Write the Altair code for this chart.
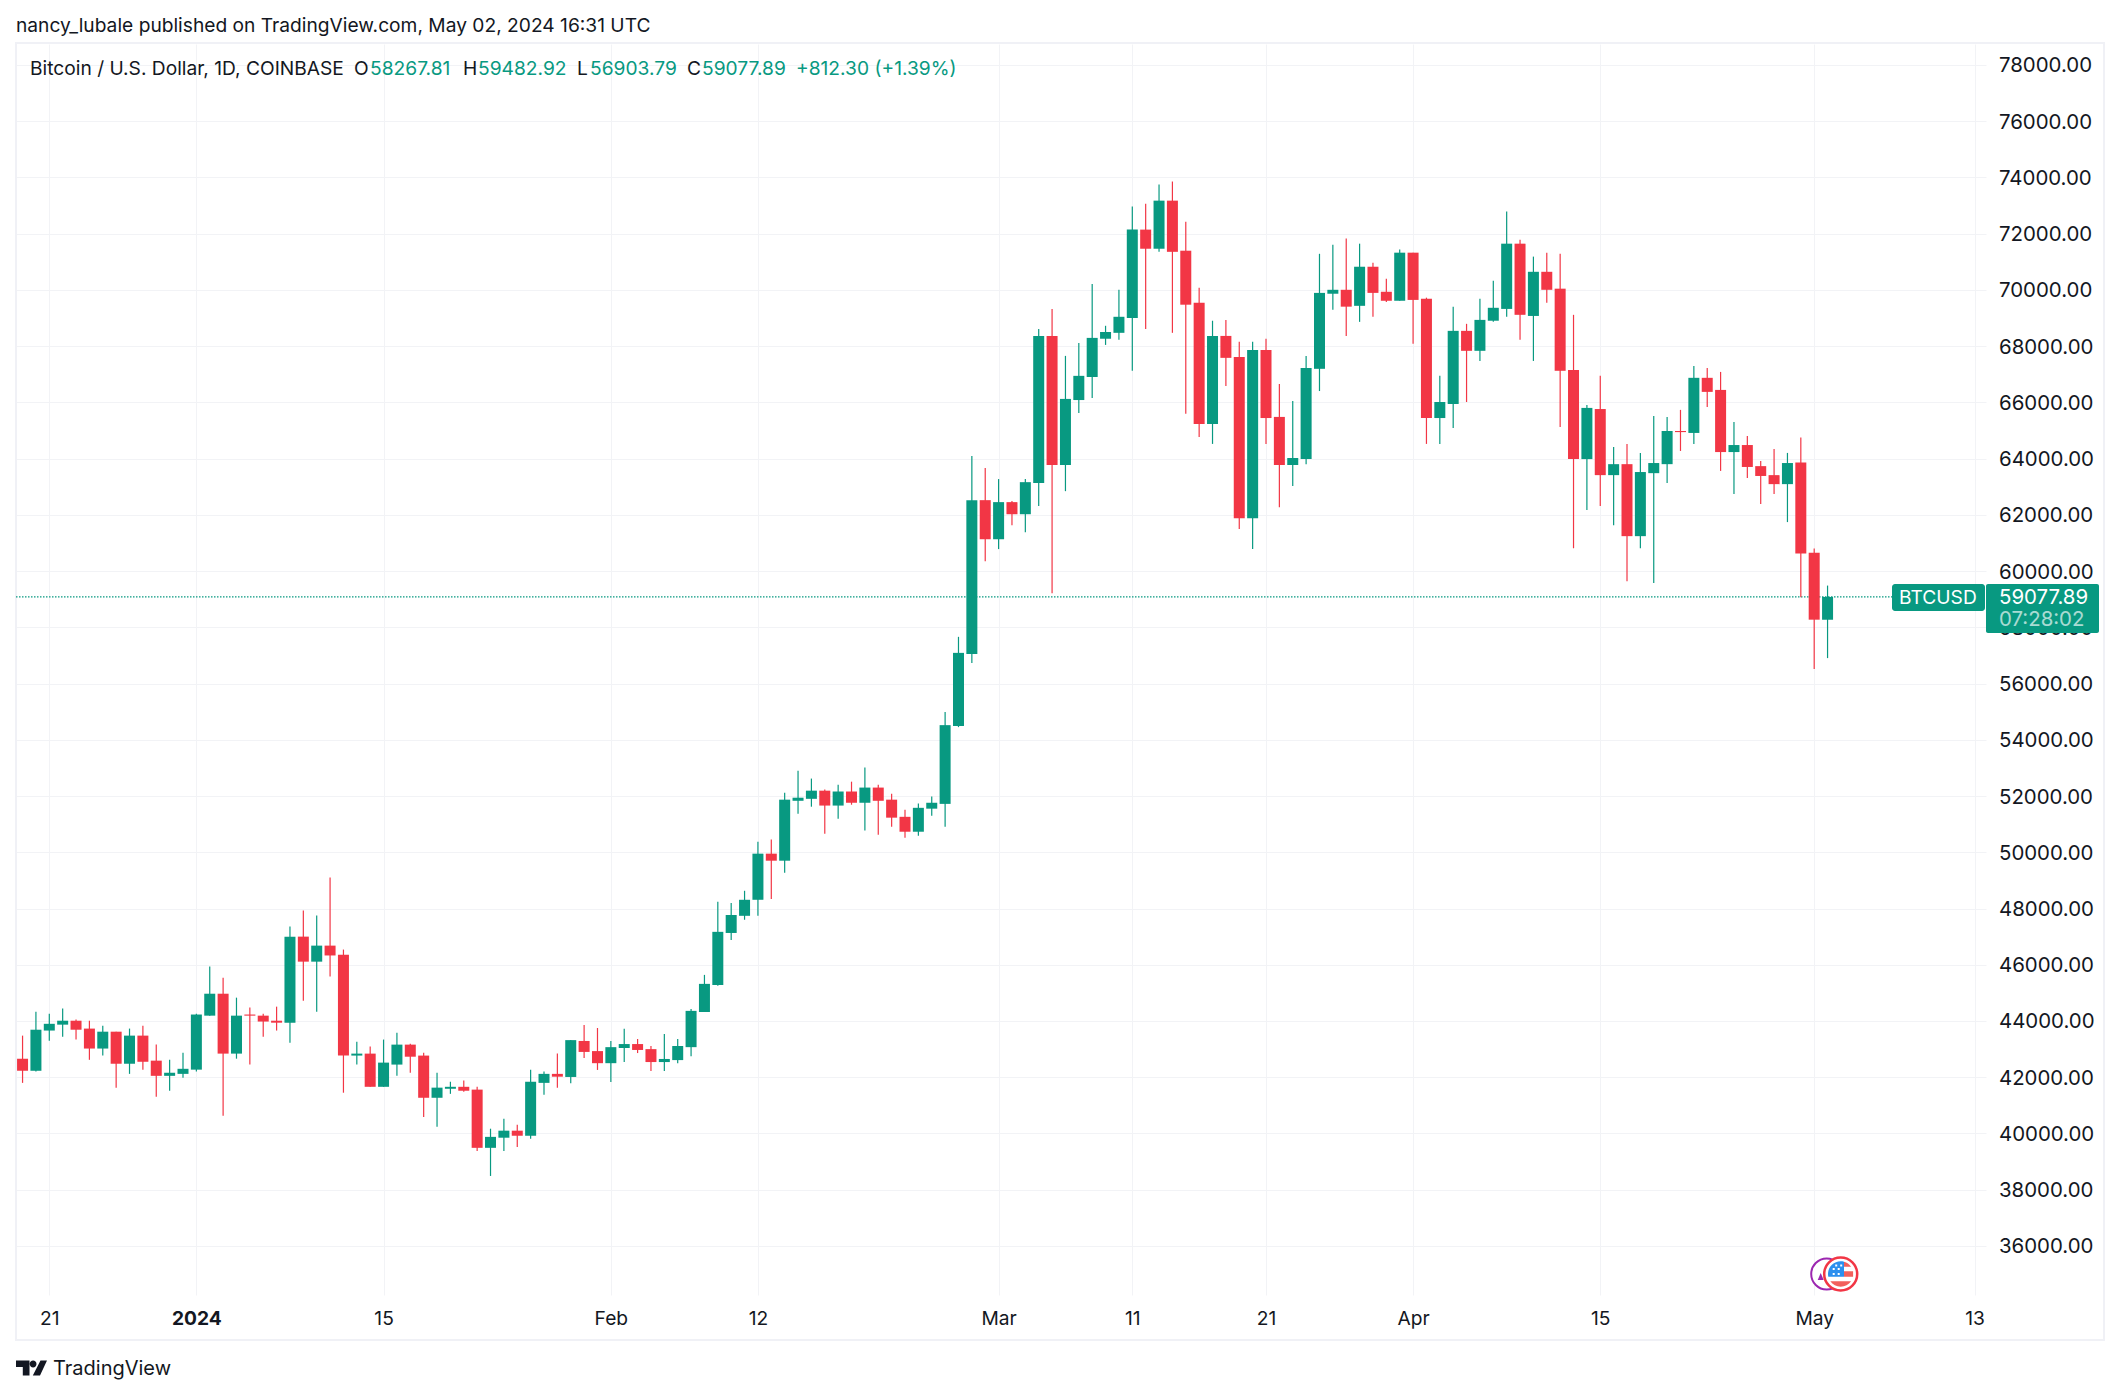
import altair as alt
import pandas as pd

opens = [42660, 42230, 43660, 43870, 44010, 43730, 43020, 43620, 42480, 43480, 42590, 42050, 42120,
         42270, 44190, 44970, 42840, 44230, 44190, 44010, 43940, 47000, 46110, 46680, 46360, 42770, 42840, 41660, 42450, 43160, 42770, 41270, 41590, 41660, 41560, 39490, 39850, 40100, 39920, 41800, 42120, 42010, 43290, 42930,
         42500, 43040, 43180, 43000, 42540, 42610, 43070, 44320, 45280, 47130, 47740, 48310, 49950, 49700, 51830, 51900, 52190, 51660, 52160, 51760, 52300, 51870, 51260, 50730, 51550, 51720, 54490, 57050, 62520,
         61130, 62450, 62020, 63130, 68360, 63770, 66080, 66900, 68260, 68470, 69000, 72140, 71460, 73170, 71390, 69540, 65230, 68360, 67610, 61880, 67860, 65480, 63770, 63980, 67190, 69860, 70000, 69430, 70820, 69930, 69610,
         71320, 69680, 65440, 65940, 68540, 67830, 68900, 69320, 71640, 69070, 70640, 70040, 67150, 63980, 65760, 63410, 63800, 61240, 63480, 63800, 64980, 64910, 66870, 66440, 64230, 64480, 63730, 63410, 63090, 63860,
         60650, 58267.81]
highs = [43480, 44330, 44260, 44440, 44050, 44010, 43830, 43620, 43730, 43830, 43160, 42620, 42870,
         44260, 45940, 45540, 44830, 44480, 44260, 44510, 47360, 47930, 47750, 49100, 46540, 43260, 43090, 43340, 43580, 43190, 42870, 42160, 41840, 41880, 41660, 40170, 40520, 40310, 42270, 42200, 42840, 43320, 43860, 43750,
         43290, 43720, 43360, 43110, 43540, 43360, 44430, 45640, 48240, 48200, 48630, 50370, 50450, 52120, 52900, 52620, 52230, 52400, 52510, 53010, 52400, 52080, 51510, 51730, 51980, 54990, 57660, 64090, 63660,
         63270, 62490, 63270, 68610, 69320, 67650, 68110, 70210, 68720, 70000, 72960, 73060, 73740, 73850, 72420, 70070, 68900, 68930, 68150, 68150, 68260, 66650, 66050, 67650, 71280, 71600, 71820, 71640, 70960, 70390, 71430,
         71320, 69720, 66940, 69400, 68790, 69680, 70320, 72780, 71780, 71180, 71320, 71280, 69110, 65900, 66940, 64410, 64520, 64200, 65510, 65480, 65730, 67290, 67220, 67080, 65300, 64800, 63910, 64340, 64200, 64750,
         60800, 59482.92]
lows = [41800, 42200, 43300, 43440, 43340, 42620, 42770, 41630, 42120, 42270, 41310, 41520, 41980,
        42200, 44190, 40630, 42660, 42450, 43440, 43660, 43230, 44720, 44330, 45580, 41450, 42450, 41660, 41660, 42050, 42160, 40590, 40240, 41410, 41480, 39380, 38490, 39380, 39520, 39810, 41380, 41630, 41790, 42680, 42260,
        41830, 42540, 42860, 42220, 42220, 42500, 42750, 44320, 45250, 46880, 47600, 47740, 48340, 49270, 51370, 51620, 50660, 51190, 51690, 50770, 50620, 50910, 50520, 50590, 51300, 50910, 54450, 56730, 60350,
        60780, 61630, 61380, 62310, 59210, 62840, 65620, 66150, 68040, 68220, 67120, 68610, 71350, 68470, 65590, 64770, 64520, 66580, 61490, 60780, 64520, 62270, 63020, 63800, 66400, 69290, 68360, 68860, 69040, 69570, 69610,
        68080, 64520, 64520, 65090, 66010, 67470, 68860, 69040, 68220, 67470, 69540, 65120, 60810, 62170, 62310, 61630, 59640, 60810, 59570, 63130, 64270, 64520, 65830, 63560, 62740, 63310, 62380, 62740, 61740, 59070,
        56520, 56903.79]
closes = [42230, 43690, 43900, 44010, 43690, 43020, 43620, 42480, 43480, 42550, 42050, 42160, 42300,
          44230, 44970, 42840, 44190, 44190, 43980, 43940, 47000, 46110, 46680, 46330, 42770, 42840, 41660, 42520, 43160, 42730, 41270, 41630, 41660, 41520, 39490, 39880, 40100, 39920, 41840, 42120, 42020, 43320, 42900, 42500,
          43070, 43180, 42970, 42540, 42650, 43110, 44360, 45320, 47170, 47770, 48310, 49950, 49700, 51870, 51940, 52190, 51660, 52160, 51760, 52300, 51830, 51230, 50730, 51580, 51760, 54520, 57090, 62520, 61130,
          62450, 62020, 63160, 68360, 63770, 66120, 66940, 68290, 68500, 69040, 72140, 71460, 73170, 71350, 69470, 65230, 68360, 67580, 61880, 67860, 65440, 63770, 64020, 67220, 69890, 70000, 69400, 70820, 69890, 69610, 71320,
          69640, 65440, 66010, 68540, 67830, 68930, 69360, 71640, 69110, 70640, 70000, 67120, 63980, 65800, 63410, 63800, 61240, 63520, 63840, 64980, 64940, 66870, 66370, 64230, 64480, 63700, 63380, 63090, 63840, 60620,
          58270, 59077.89]

price_ticks = list(range(36000, 80000, 2000))
last_price = [59077.89]
header_text = "nancy_lubale published on TradingView.com, May 02, 2024 16:31 UTC"
symbol_text = "Bitcoin / U.S. Dollar, 1D, COINBASE"
ohlc_labels = [("O", "58267.81"), ("H", "59482.92"), ("L", "56903.79"), ("C", "59077.89")]
change_text = "+812.30 (+1.39%)"
GREEN = "#089981"
RED = "#F23645"
GRID = "#F2F3F6"
FRAME = "#F0F1F6"
INK = "#131722"
FONT = "Inter"
FS = 19.2
PS = 20.4

dates = pd.date_range("2023-12-19", periods=len(opens)).strftime("%Y-%m-%d").tolist()
df = pd.DataFrame({"date": dates, "open": opens, "high": highs, "low": lows, "close": closes})
df["dir"] = ["up" if c >= o else "down" for o, c in zip(opens, closes)]

# plot area spans page x 16..1986, y 44..1295; padding places it there
W, H = 1970, 1251
PX = lambda x: x - 16
PY = lambda y: y - 44

xscale = alt.Scale(type="utc", padding=0,
                   domain=[alt.DateTime(year=2023, month=12, date=18, hours=12, minutes=14, utc=True),
                           alt.DateTime(year=2024, month=5, date=13, hours=20, minutes=24, utc=True)])
yscale = alt.Scale(domain=[34257, 78740], zero=False, nice=False)
cscale = alt.Scale(domain=["up", "down"], range=[GREEN, RED])

x_ticks = [alt.DateTime(year=y, month=m, date=d, utc=True) for y, m, d in
           [(2023, 12, 21), (2024, 1, 1), (2024, 1, 15), (2024, 2, 1), (2024, 2, 12), (2024, 3, 1),
            (2024, 3, 11), (2024, 3, 21), (2024, 4, 1), (2024, 4, 15), (2024, 5, 1), (2024, 5, 13)]]

x_axis = alt.Axis(values=x_ticks, title=None, domain=False, ticks=False, grid=True, gridColor=GRID, gridWidth=1,
                  labelExpr="utcdate(datum.value)==1 ? (utcmonth(datum.value)==0 ? '2024' : utcFormat(datum.value,'%b')) : utcFormat(datum.value,'%-d')",
                  labelFontWeight={"condition": {"test": "utcmonth(datum.value)==0 && utcdate(datum.value)==1", "value": 700}, "value": 400},
                  labelFont=FONT, labelFontSize=FS, labelColor=INK, labelPadding=14, labelOverlap=False,
                  labelFlush=False, labelBound=False)
y_axis = alt.Axis(values=price_ticks, format=".2f", orient="right", title=None, domain=False, ticks=False, grid=True,
                  gridColor=GRID, gridWidth=1, labelFont=FONT, labelFontSize=PS, labelColor=INK, labelPadding=12.5,
                  labelOffset=1, labelOverlap=False, labelBound=False, labelFlush=False)

X = alt.X("date:T", scale=xscale, axis=x_axis)

base = alt.Chart(df)
wicks = base.mark_rule(size=1.2).encode(
    x=X, y=alt.Y("low:Q", scale=yscale, axis=y_axis), y2="high:Q",
    color=alt.Color("dir:N", scale=cscale, legend=None))
bodies = base.mark_bar(size=11, stroke=None).encode(
    x=X, y=alt.Y("open:Q", scale=yscale, axis=y_axis), y2="close:Q",
    color=alt.Color("dir:N", scale=cscale, legend=None))

one = alt.Data(values=[{"k": 0}])

def label(text, x, y, color=INK, size=FS, weight=400, align="left", opacity=1.0):
    return alt.Chart(one).mark_text(text=text, font=FONT, fontSize=size, fontWeight=weight, color=color,
                                    align=align, baseline="middle", opacity=opacity).encode(
        x=alt.value(PX(x)), y=alt.value(PY(y)))

def shape(path, x, y, color):
    return alt.Chart(one).mark_point(shape=path, size=4, filled=True, fill=color, opacity=1, strokeWidth=0).encode(
        x=alt.value(PX(x)), y=alt.value(PY(y)))

def ring(x, y, r, color, sw):
    return alt.Chart(one).mark_point(shape="circle", size=(2 * r) ** 2, filled=True, fill="#FFFFFF", stroke=color,
                                     strokeWidth=sw, opacity=1).encode(x=alt.value(PX(x)), y=alt.value(PY(y)))

price_line = alt.Chart(pd.DataFrame({"p": last_price})).mark_rule(
    color=GREEN, strokeDash=[1.5, 1.5], strokeWidth=1.2).encode(
    y=alt.Y("p:Q", scale=yscale, axis=y_axis), x=alt.value(0), x2=alt.value(PX(1892)))

frame = alt.Chart(one).mark_rect(filled=False, stroke=FRAME, strokeWidth=2).encode(
    x=alt.value(PX(16)), x2=alt.value(PX(2104)), y=alt.value(PY(43)), y2=alt.value(PY(1340)))

tag1 = alt.Chart(one).mark_rect(fill=GREEN, cornerRadius=3).encode(
    x=alt.value(PX(1892)), x2=alt.value(PX(1985)), y=alt.value(PY(584)), y2=alt.value(PY(611)))
tag2 = alt.Chart(one).mark_rect(fill=GREEN, cornerRadius=2).encode(
    x=alt.value(PX(1986)), x2=alt.value(PX(2099)), y=alt.value(PY(584)), y2=alt.value(PY(633)))

layers = [frame, price_line, wicks, bodies, tag1, tag2,
          label("BTCUSD", 1899, 598, "#FFFFFF"),
          label("59077.89", 1999, 598, "#FFFFFF", size=PS),
          label("07:28:02", 1999, 620, "#FFFFFF", size=PS, opacity=0.65),
          label(header_text, 16, 26),
          label(symbol_text, 30, 69),
          label(change_text, 796, 69, GREEN),
          label("TradingView", 53, 1369, "#131722", size=20)]
for (letter, value), lx, vx in zip(ohlc_labels, [354, 463, 577, 687], [370, 478, 590, 702]):
    layers += [label(letter, lx, 69), label(value, vx, 69, GREEN)]

logo = ("M0,-7.5 L13.5,-7.5 L13.5,7.5 L6.8,7.5 L6.8,-1 L0,-1 Z "
        "M20.5,-4 A3.4,3.4 0 1 1 13.7,-4 A3.4,3.4 0 1 1 20.5,-4 Z "
        "M24.5,-7.5 L31,-7.5 L24,7.5 L16.8,7.5 Z")
layers.append(shape(logo, 16, 1368, "#131722"))

# event markers
layers.append(ring(1826.7, 1274, 15.5, "#9C27B0", 2))
layers.append(shape("M-9,6 L-6,-1 L-3,6 Z", 1826.7, 1274, "#9C27B0"))
layers.append(ring(1840.7, 1274, 16.5, RED, 2.5))
layers.append(shape("M3.3,-12.3 L3.3,2.7 L-12.4,2.7 A12.7,12.7 0 0 1 3.3,-12.3 Z", 1840.7, 1274, "#2C8FEE"))
layers.append(shape("M3.3,-12.3 A12.7,12.7 0 0 1 10.4,-7.3 L3.3,-7.3 Z "
                    "M3.3,-2.7 L12.4,-2.7 L12.4,2.7 L3.3,2.7 Z "
                    "M-10.4,7.3 L10.4,7.3 A12.7,12.7 0 0 1 -10.4,7.3 Z", 1840.7, 1274, "#F2605C"))
layers.append(shape("M-8,-6 h2 v2 h-2 Z M-3,-6 h2 v2 h-2 Z M-8,-1 h2 v2 h-2 Z M-3,-1 h2 v2 h-2 Z "
                    "M-5.5,-9.5 h2 v2 h-2 Z M-0.5,-9.5 h2 v2 h-2 Z", 1840.7, 1274, "#FFFFFF"))

chart = alt.layer(*layers).properties(
    width=W, height=H,
    autosize=alt.AutoSizeParams(type="none"),
    padding={"left": 8, "top": 36, "right": 124, "bottom": 88},
    background="#FFFFFF",
).configure_view(strokeWidth=0)

chart.save("out.html", embed_options={"renderer": "svg", "actions": False})
